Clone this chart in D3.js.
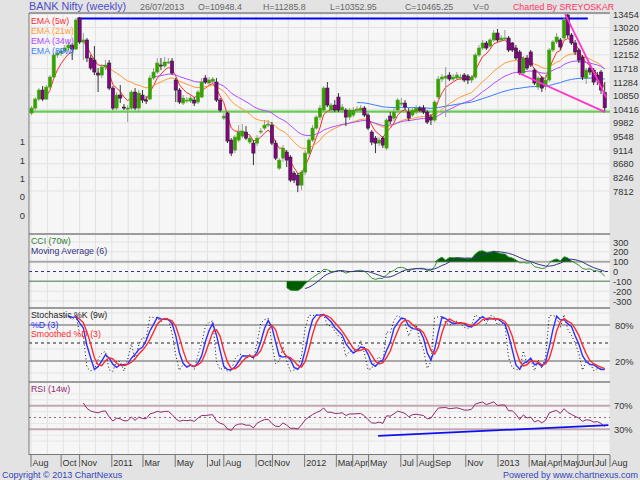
<!DOCTYPE html>
<html><head><meta charset="utf-8">
<script src="https://cdn.jsdelivr.net/npm/d3@7"></script>
<style>
body{margin:0;background:#e3e3e3;}
svg{display:block;font-family:Arial,"Liberation Sans",sans-serif;}
</style></head>
<body><svg id="c" width="640" height="480"></svg>
<script>
// ---------- DATA (weekly candles, Aug 2010 - Jul 2013) ----------
const opens=[10296,10455,10742,11030,10742,11125,11444,12146,12210,12274,12369,12465,12337,13326,12561,12625,12050,11987,11572,11508,
11763,11891,11093,10455,10870,10487,10455,10455,10966,10455,10870,10711,10742,11412,11604,11827,11795,11923,11955,11349,
11030,10615,10711,10679,10711,10647,10806,11412,11253,11317,11285,10711,10136,10296,9435,9116,9435,9562,9690,9371,
9339,9339,9722,9817,9945,9913,9339,8541,8860,9052,8892,8382,8318,7999,8414,9020,9435,9817,10168,10392,
11093,10392,10551,10806,10392,10392,10168,10232,10392,10392,10455,10232,9690,9498,9339,9498,9180,10200,10136,10392,
10615,10615,10328,10232,10328,10455,10455,10328,10168,10073,10806,11380,11412,11508,11380,11412,11444,11508,11476,11349,
11444,12146,12369,12529,12433,12625,12848,12625,12656,12688,12529,12369,12242,11572,12050,12242,11668,11125,11412,11157,
11349,12306,12561,12625,12688,13422,12784,12529,12306,12082,11412,11731,11668,11508,11604,10948.4];
const highs=[10519,10806,11093,11157,11189,11508,12210,12306,12369,12465,12561,12529,13326,13358,12848,12688,12146,12433,11731,11859,
11987,11987,11157,10966,11189,10583,10551,11030,11093,11030,11030,10838,11508,11731,12050,12050,12082,12050,12050,11412,
11093,10870,10806,10870,10806,11030,11412,11508,11444,11444,11412,10774,10296,10328,9498,9594,9913,9945,9881,9626,
9435,9594,9817,10073,10073,10009,9435,8860,9275,9116,8956,8446,8382,8477,9116,9498,9913,10232,10551,11157,
11285,10615,10711,10934,10583,10455,10455,10487,10519,10551,10519,10296,9753,9562,9530,9562,10136,10328,10455,10774,
10774,10711,10455,10487,10551,10519,10551,10392,10264,10711,11476,11540,11763,11604,11540,11604,11540,11572,11540,11508,
12210,12465,12625,12593,12688,12944,12976,12784,12944,12752,12561,12465,12306,12114,12146,12306,11731,11476,11476,11508,
12369,12625,12848,12688,13326,13454,12848,12625,12369,12146,11731,11795,11731,11604,11668,11285.8];
const lows=[10232,10392,10679,10679,10711,11061,11412,12050,12114,12210,12306,11987,12306,12497,11987,11923,11668,11508,10966,11412,
11668,11030,10392,10392,10615,10392,10009,10392,10392,10328,10615,10583,10711,11349,11540,11668,11731,11859,11508,10647,
10583,10551,10615,10615,10519,10583,10774,11221,11189,11253,10647,10328,10073,9339,8924,9020,9371,9498,9435,9307,
8637,9243,9626,9753,9849,9275,8797,8477,8733,8573,8095,8063,7776,7839,8318,8956,9371,9753,10073,10328,
10487,10296,10328,10328,10296,9881,10073,10168,10328,10328,10168,9753,9275,9020,9243,9180,9116,9945,10041,10296,
10519,10392,10041,10168,10264,10328,10264,9945,9913,10009,10742,11285,10168,11317,11317,11349,11349,11285,11221,11253,
11380,12082,12306,12306,12369,12561,12561,12561,12593,12242,12242,11987,11508,11508,11668,11763,11189,11030,10966,11030,
11285,12242,12497,12306,12625,12688,12465,12146,11891,11349,11221,11508,11189,11189,10902,10352.95];
const closes=[10455,10742,11030,10742,11125,11444,12146,12210,12274,12369,12465,12337,13263,12561,12625,12050,11731,11604,11508,11763,
11827,11093,10455,10870,10774,10455,10455,10966,10455,10934,10711,10679,11412,11604,11891,11795,11923,11923,11572,11030,
10647,10774,10711,10774,10615,10966,11285,11285,11349,11380,10711,10392,10200,9403,9020,9530,9690,9722,9498,9498,
9020,9498,9722,9913,9945,9339,8860,8797,9180,8797,8159,8159,7999,8414,9020,9435,9817,10168,10455,11093,
10551,10551,10392,10392,10487,10168,10392,10392,10423,10455,10232,9817,9371,9339,9435,9275,10073,10041,10328,10711,
10615,10487,10136,10392,10455,10392,10328,10009,10073,10647,11380,11444,11476,11380,11444,11508,11444,11349,11349,11444,
12146,12369,12529,12369,12625,12848,12625,12688,12688,12306,12306,12050,11572,12050,11731,11827,11253,11412,11093,11349,
12306,12561,12720,12401,13263,12784,12529,12242,11987,11444,11668,11604,11285,11349,11030,10465.25];

const priceTicks=[13454,13020,12586,12152,11718,11284,10850,10416,9982,9548,9114,8680,8246,7812];
const volTickLabels=["1","1","1","0","0"];
const volTickValues=[4,3,2,1,0];
const cciTicks=[300,200,100,0,-100,-200,-300];
const stochTicks=[80,20];
const rsiTicks=[70,30];
const xTickDates=["2010-08-01","2010-09-27","2010-11-01","2011-01-01","2011-03-01","2011-05-01","2011-07-01","2011-08-01","2011-10-01","2011-11-01","2012-01-01","2012-03-01","2012-04-01","2012-05-01","2012-07-01","2012-08-01","2012-09-01","2012-11-01","2013-01-01","2013-03-01","2013-04-01","2013-05-01","2013-06-01","2013-07-01","2013-08-01"];
const xTickLabels=["Aug","Oct","Nov","2011","Mar","May","Jul","Aug","Oct","Nov","2012","Mar","Apr","May","Jul","Aug","Sep","Nov","2013","Mar","Apr","May","Jun","Jul","Aug"];
const emaPeriods=[5,21,34,89];
const emaNames=["EMA (5w)","EMA (21w)","EMA (34w)","EMA (89w)"];
const emaColors=["#ff2a2a","#ff9a33","#b04cff","#3a7cff"];
// drawn trend lines [date, value]
const blueResist=[["2010-10-28",13310],["2013-06-20",13310]];
const greenSupport=[["2010-07-20",10340],["2013-08-05",10340]];
const pinkA=[["2013-05-08",13450],["2013-07-25",10790]];
const pinkB=[["2013-02-09",11572],["2013-07-23",10328]];
const rsiTrend=[["2012-05-19",19],["2013-07-29",37]];
const header={title:"BANK Nifty (weekly)",date:"26/07/2013",o:"O=10948.4",h:"H=11285.8",l:"L=10352.95",c:"C=10465.25",v:"V=0",by:"Charted By SREYOSKAR"};

// ---------- SETUP ----------
const parse=d3.timeParse("%Y-%m-%d");
const dates=d3.timeMonday.range(new Date(2010,7,2),new Date(2013,6,23));
const N=closes.length;
const svg=d3.select("#c");
const L=29,R=610;
const P={price:[13,234],cci:[234,308],stoch:[308,382],rsi:[382,454]};
const x=d3.scaleTime().domain([new Date(2010,7,1),new Date(2013,7,1)]).range([31,610]);
const yP=d3.scaleLinear().domain([7812,13454]).range([191,14]);
const yV=d3.scaleLinear().domain([0,4]).range([215.3,141.7]);
const yC=d3.scaleLinear().domain([-300,300]).range([301,242]);
const yS=d3.scaleLinear().domain([20,80]).range([361,325]);
const yR=d3.scaleLinear().domain([30,70]).range([429.3,405.7]);

// ---------- INDICATORS ----------
function ema(a,n){const o=a.map(()=>null);if(a.length<n)return o;let s=0;for(let i=0;i<n;i++)s+=a[i];o[n-1]=s/n;const k=2/(n+1);for(let i=n;i<a.length;i++)o[i]=a[i]*k+o[i-1]*(1-k);return o;}
function sma(a,n){return a.map((v,i)=>{if(i<n-1)return null;let s=0;for(let j=i-n+1;j<=i;j++){if(a[j]==null)return null;s+=a[j];}return s/n;});}
const tp=closes.map((c,i)=>(highs[i]+lows[i]+c)/3);
const cci=tp.map((v,i)=>{const n=70;if(i<n-1)return null;const w=tp.slice(i-n+1,i+1);const m=d3.mean(w);const md=d3.mean(w,t=>Math.abs(t-m));return (v-m)/(0.015*md);});
const cciMA=sma(cci,6);
const kFast=closes.map((c,i)=>{if(i<8)return null;const ll=d3.min(lows.slice(i-8,i+1)),hh=d3.max(highs.slice(i-8,i+1));return 100*(c-ll)/(hh-ll);});
const dS=sma(kFast,3);const sdS=sma(dS,3);
const rsi=closes.map(()=>null);
(function(){let g=0,l=0;for(let i=1;i<=14;i++){const d=closes[i]-closes[i-1];if(d>0)g+=d;else l-=d;}g/=14;l/=14;rsi[14]=100-100/(1+g/l);
for(let i=15;i<N;i++){const d=closes[i]-closes[i-1];g=(g*13+Math.max(d,0))/14;l=(l*13+Math.max(-d,0))/14;rsi[i]=l===0?100:100-100/(1+g/l);}})();

// ---------- BACKGROUND / GRID ----------
const defs=svg.append("defs");
Object.entries(P).forEach(([k,r])=>{defs.append("clipPath").attr("id","clip-"+k).append("rect").attr("x",L).attr("y",r[0]).attr("width",R-L).attr("height",r[1]-r[0]);});
svg.append("rect").attr("x",L).attr("y",13).attr("width",R-L).attr("height",454-13).attr("fill","#f6f6f6");
const months=d3.timeMonth.range(new Date(2010,7,1),new Date(2013,7,2));
svg.append("g").selectAll("line").data(months).join("line")
 .attr("x1",d=>x(d)).attr("x2",d=>x(d)).attr("y1",13).attr("y2",454).attr("stroke","#e2e2e2").attr("stroke-width",1);
svg.append("g").selectAll("line").data(priceTicks).join("line")
 .attr("x1",L).attr("x2",R).attr("y1",d=>yP(d)).attr("y2",d=>yP(d)).attr("stroke","#e2e2e2");
svg.append("g").selectAll("line").data(cciTicks.filter(d=>Math.abs(d)!==100&&d!==0)).join("line")
 .attr("x1",L).attr("x2",R).attr("y1",d=>yC(d)).attr("y2",d=>yC(d)).attr("stroke","#e2e2e2");
svg.append("g").selectAll("line").data([0,40,60,100]).join("line")
 .attr("x1",L).attr("x2",R).attr("y1",d=>yS(d)).attr("y2",d=>yS(d)).attr("stroke","#e2e2e2");
svg.append("g").selectAll("line").data([10,20,40,60,80,90]).join("line")
 .attr("x1",L).attr("x2",R).attr("y1",d=>yR(d)).attr("y2",d=>yR(d)).attr("stroke","#e6e6e6");

// ---------- PRICE PANEL ----------
const gp=svg.append("g").attr("clip-path","url(#clip-price)");
const line=(xs,ys)=>d3.line().defined(d=>d[1]!=null).x(d=>xs(d[0])).y(d=>ys(d[1]));
gp.append("path").attr("d",line(x,yP)(greenSupport.map(d=>[parse(d[0]),d[1]]))).attr("stroke","#66cc55").attr("stroke-width",2.2).attr("fill","none");
gp.append("path").attr("d",line(x,yP)(blueResist.map(d=>[parse(d[0]),d[1]]))).attr("stroke","#0000ee").attr("stroke-width",1.8).attr("fill","none");
emaPeriods.forEach((n,k)=>{const e=ema(closes,n);
 gp.append("path").attr("d",line(x,yP)(dates.map((d,i)=>[d,e[i]]))).attr("fill","none").attr("stroke",emaColors[k]).attr("stroke-width",1);});
const cg=gp.append("g");
const idx=d3.range(N);
cg.selectAll("line.w").data(idx).join("line")
 .attr("x1",i=>x(dates[i])).attr("x2",i=>x(dates[i])).attr("y1",i=>yP(highs[i])).attr("y2",i=>yP(lows[i]))
 .attr("stroke",i=>closes[i]>=opens[i]?"#9a9a9a":"#333").attr("stroke-width",1);
cg.selectAll("rect").data(idx).join("rect")
 .attr("x",i=>x(dates[i])-1.6).attr("width",3.2)
 .attr("y",i=>yP(Math.max(opens[i],closes[i])))
 .attr("height",i=>Math.max(1,Math.abs(yP(opens[i])-yP(closes[i]))))
 .attr("fill",i=>closes[i]>=opens[i]?"#36a000":"#8a008a")
 .attr("stroke",i=>closes[i]>=opens[i]?"#4aa81a":"#222").attr("stroke-width",0.6);
[pinkA,pinkB].forEach(t=>gp.append("path").attr("d",line(x,yP)(t.map(d=>[parse(d[0]),d[1]]))).attr("stroke","#ff33cc").attr("stroke-width",1.8).attr("fill","none"));

// ---------- CCI PANEL ----------
const gc=svg.append("g").attr("clip-path","url(#clip-cci)");
gc.append("line").attr("x1",L).attr("x2",R).attr("y1",yC(100)).attr("y2",yC(100)).attr("stroke","#aaaaaa").attr("stroke-width",2);
gc.append("line").attr("x1",L).attr("x2",R).attr("y1",yC(-100)).attr("y2",yC(-100)).attr("stroke","#7fa07f").attr("stroke-width",1.5);
gc.append("line").attr("x1",L).attr("x2",R).attr("y1",yC(0)).attr("y2",yC(0)).attr("stroke","#333388").attr("stroke-dasharray","3,3");
const cd=dates.map((d,i)=>[d,cci[i]]);
gc.append("path").attr("fill","#005c00").attr("d",d3.area().defined(d=>d[1]!=null).x(d=>x(d[0])).y0(yC(100)).y1(d=>yC(Math.max(d[1],100)))(cd));
gc.append("path").attr("fill","#005c00").attr("d",d3.area().defined(d=>d[1]!=null).x(d=>x(d[0])).y0(yC(-100)).y1(d=>yC(Math.min(d[1],-100)))(cd));
gc.append("path").attr("d",line(x,yC)(cd)).attr("fill","none").attr("stroke","#3a913a").attr("stroke-width",1);
gc.append("path").attr("d",line(x,yC)(dates.map((d,i)=>[d,cciMA[i]]))).attr("fill","none").attr("stroke","#33337f").attr("stroke-width",1);

// ---------- STOCH PANEL ----------
const gs=svg.append("g").attr("clip-path","url(#clip-stoch)");
stochTicks.forEach(v=>gs.append("line").attr("x1",L).attr("x2",R).attr("y1",yS(v)).attr("y2",yS(v)).attr("stroke","#a8a8a8").attr("stroke-width",2));
gs.append("line").attr("x1",L).attr("x2",R).attr("y1",yS(50)).attr("y2",yS(50)).attr("stroke","#222").attr("stroke-dasharray","3,3");
gs.append("path").attr("d",line(x,yS)(dates.map((d,i)=>[d,kFast[i]]))).attr("fill","none").attr("stroke","#111").attr("stroke-width",1).attr("stroke-dasharray","1,2.5");
gs.append("path").attr("d",line(x,yS)(dates.map((d,i)=>[d,dS[i]]))).attr("fill","none").attr("stroke","#3030ff").attr("stroke-width",1.4);
gs.append("path").attr("d",line(x,yS)(dates.map((d,i)=>[d,sdS[i]]))).attr("fill","none").attr("stroke","#ff2a2a").attr("stroke-width",1.4);

// ---------- RSI PANEL ----------
const gr=svg.append("g").attr("clip-path","url(#clip-rsi)");
rsiTicks.forEach(v=>gr.append("line").attr("x1",L).attr("x2",R).attr("y1",yR(v)).attr("y2",yR(v)).attr("stroke","#c4a8b0").attr("stroke-width",2));
gr.append("line").attr("x1",L).attr("x2",R).attr("y1",yR(50)).attr("y2",yR(50)).attr("stroke","#a06080").attr("stroke-dasharray","2,3");
gr.append("path").attr("d",line(x,yR)(dates.map((d,i)=>[d,rsi[i]]))).attr("fill","none").attr("stroke","#8e2a6a").attr("stroke-width",1);
gr.append("path").attr("d",line(x,yR)(rsiTrend.map(d=>[parse(d[0]),d[1]]))).attr("fill","none").attr("stroke","#1010ee").attr("stroke-width",1.8);

// ---------- FRAME ----------
[13,234,308,382].forEach(y=>svg.append("line").attr("x1",L).attr("x2",R).attr("y1",y).attr("y2",y).attr("stroke","#9c9c9c").attr("stroke-width",2));
svg.append("line").attr("x1",L).attr("x2",L).attr("y1",13).attr("y2",455).attr("stroke","#777");
svg.append("line").attr("x1",L).attr("x2",R).attr("y1",454.5).attr("y2",454.5).attr("stroke","#777");

// ---------- AXES TEXT ----------
const txt=(g,s,xx,yy,fill,size,anchor)=>g.append("text").attr("x",xx).attr("y",yy).attr("fill",fill).attr("font-size",size).attr("text-anchor",anchor||"start").text(s);
const ax=svg.append("g");
priceTicks.forEach(v=>txt(ax,v,613,yP(v)+3.5,"#333",9.3));
volTickValues.forEach((v,i)=>txt(ax,volTickLabels[i],25,yV(v)+3.5,"#333",9.3,"end"));
cciTicks.forEach(v=>txt(ax,v,613,yC(v)+3.5,"#333",9.3));
stochTicks.forEach(v=>txt(ax,v+"%",615,yS(v)+3.5,"#333",9.3));
rsiTicks.forEach(v=>txt(ax,v+"%",614,yR(v)+3.5,"#333",9.3));
xTickDates.forEach((d,i)=>{const xx=x(parse(d));
 ax.append("line").attr("x1",xx).attr("x2",xx).attr("y1",455).attr("y2",467).attr("stroke","#777");
 txt(ax,xTickLabels[i],xx+1.5,465.5,"#333",9);});

// ---------- LABELS ----------
txt(svg,header.title,29,10,"#4d4dc8",10.8);
txt(svg,header.date,140,10,"#666",8.8);
txt(svg,header.o,198,10,"#666",8.8);
txt(svg,header.h,263,10,"#666",8.8);
txt(svg,header.l,330,10,"#666",8.8);
txt(svg,header.c,405,10,"#666",8.8);
txt(svg,header.v,473,10,"#666",8.8);
txt(svg,header.by,513,10,"#ff3366",8.8);
emaNames.forEach((s,k)=>txt(svg,s,31,23.5+10*k,emaColors[k],8.8));
txt(svg,"CCI (70w)",31,244,"#2e7d2e",8.8);
txt(svg,"Moving Average (6)",31,254,"#33337f",8.8);
txt(svg,"Stochastic %K (9w)",31,318,"#222",8.8);
txt(svg,"%D (3)",31,327.5,"#3030ff",8.8);
txt(svg,"Smoothed %D (3)",31,337,"#ff2a2a",8.8);
txt(svg,"RSI (14w)",31,392,"#8e2a6a",8.8);
txt(svg,"Copyright © 2013 ChartNexus",2,477.5,"#3344bb",9);
txt(svg,"Powered by www.chartnexus.com",638,477.5,"#3344bb",9,"end");
</script></body></html>
